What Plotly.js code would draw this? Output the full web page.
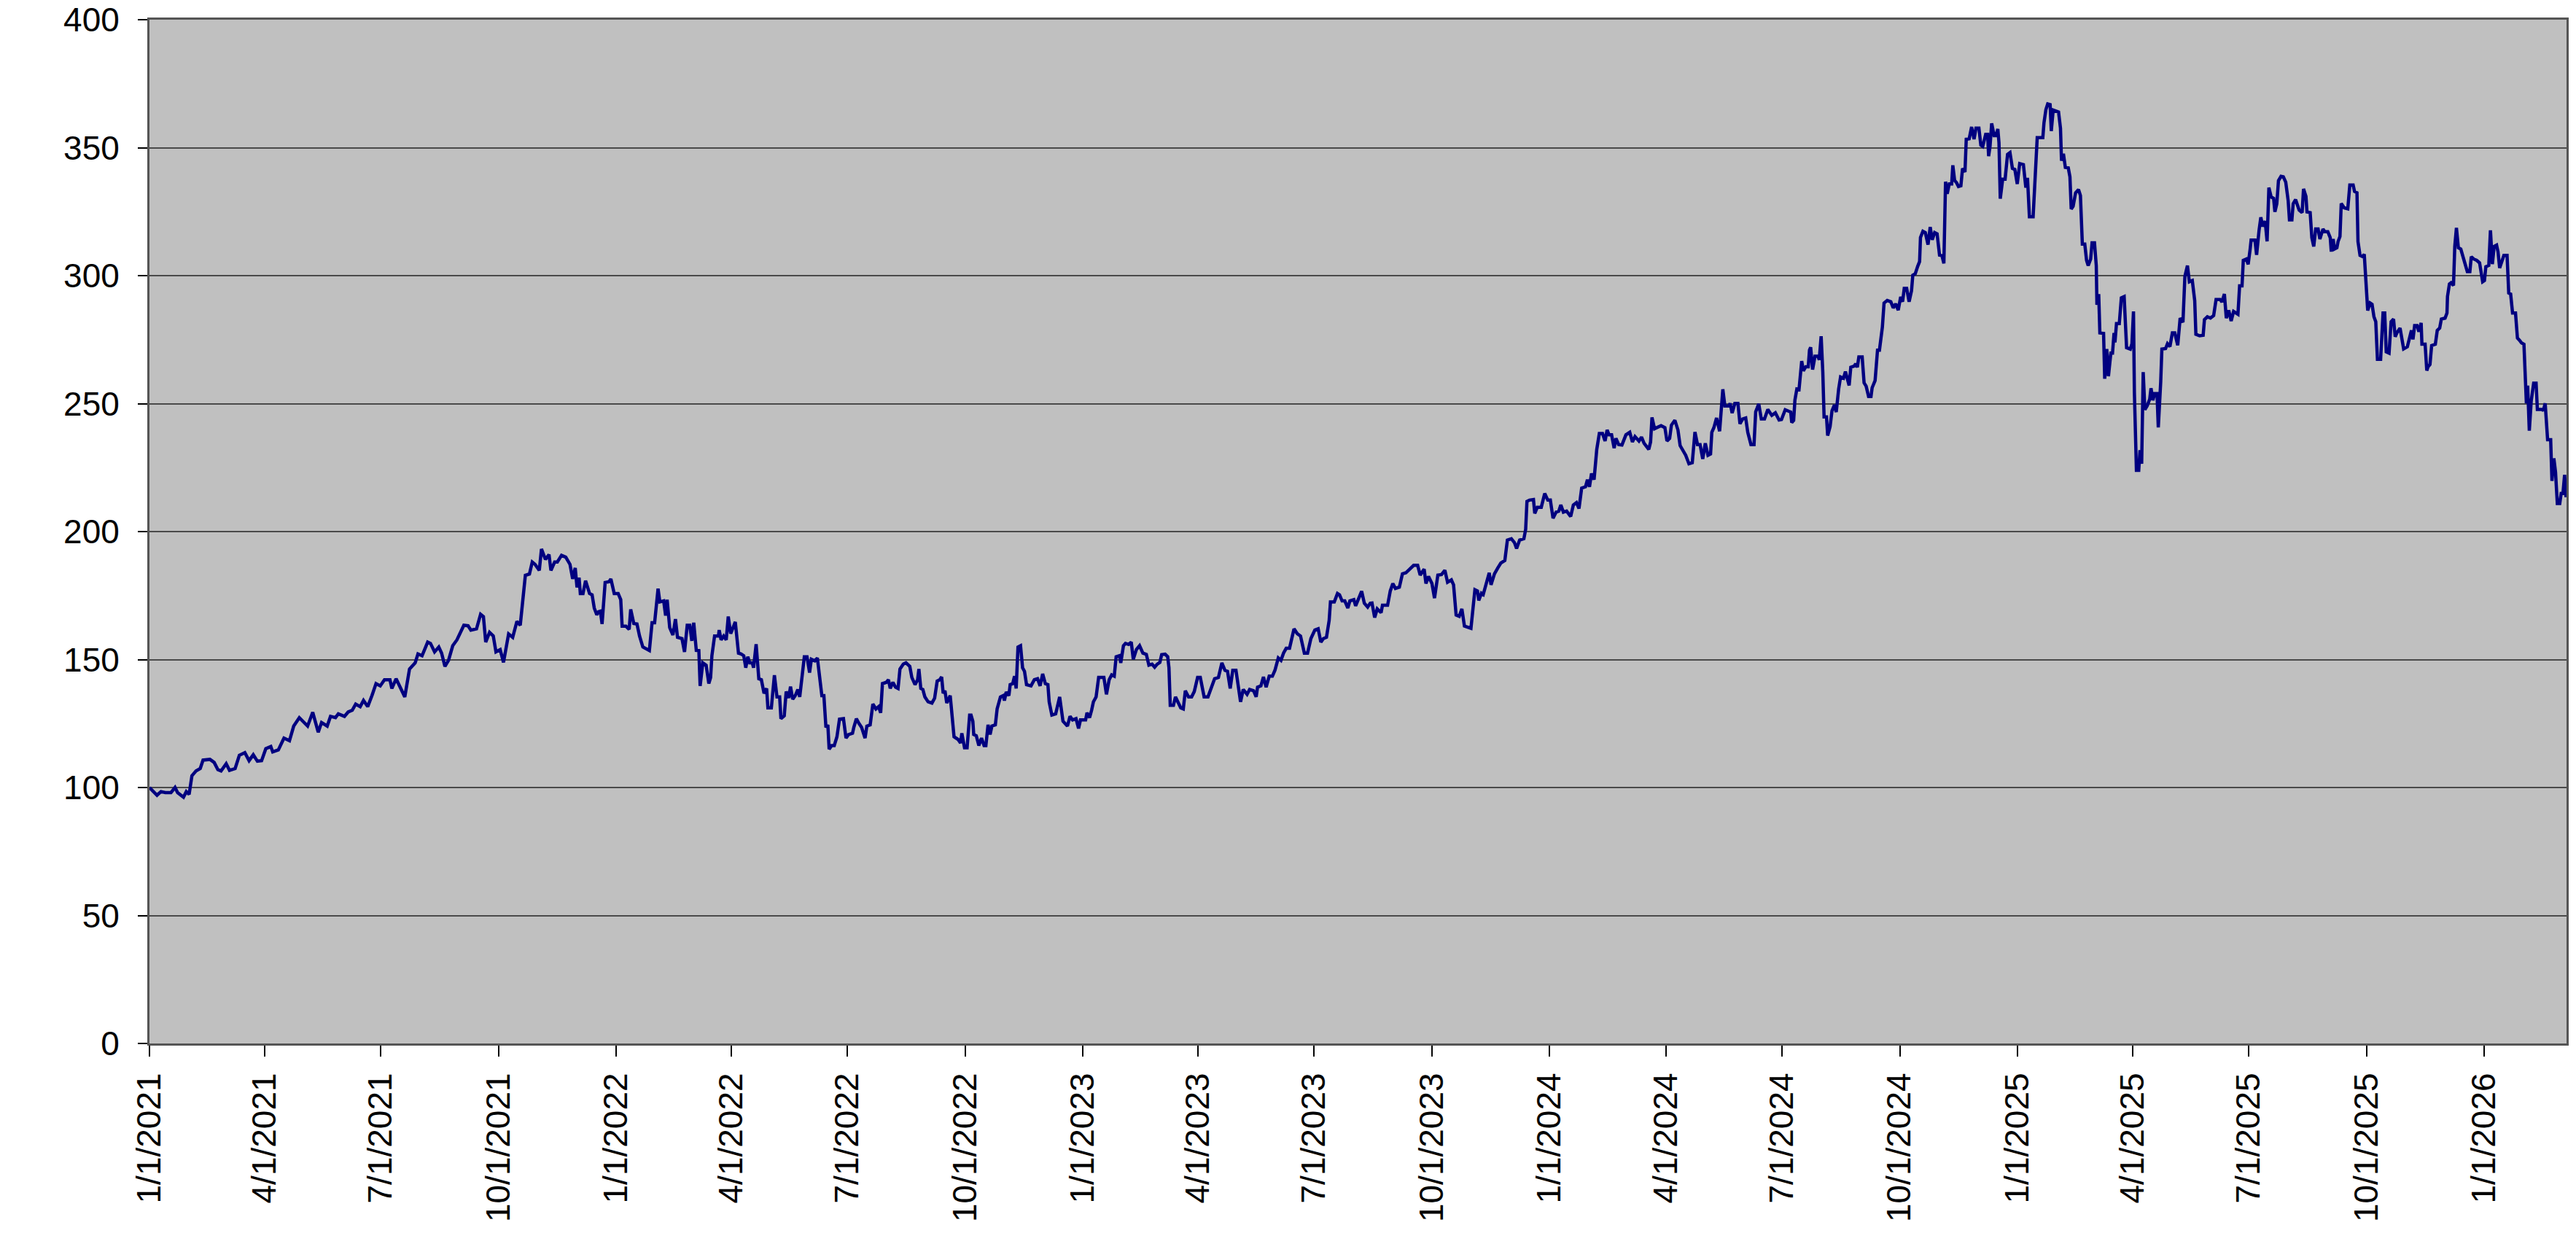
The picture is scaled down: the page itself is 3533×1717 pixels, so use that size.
<!DOCTYPE html>
<html>
<head>
<meta charset="utf-8">
<script src="https://cdn.plot.ly/plotly-3.0.1.min.js"></script>
<style>
  html, body { margin: 0; padding: 0; background: #fff; }
  #chart { width: 3533px; height: 1717px; }
</style>
</head>
<body>
<div id="chart"></div>
<script>
// Trading days, counted in days since 1/1/2021, and the closing value on each
var tradeDays = [
    0, 5.9, 9, 12.4, 16.8, 20, 22, 26.6, 28.8, 31, 33.2, 36.4, 39.7, 41.9, 47.3, 50.6, 53.5, 56, 60, 62.6,
    67, 70.3, 74.6, 77.9, 81.2, 84.4, 87.7, 91, 94.9, 96.4, 100.8, 105.2, 109.5, 112.8, 117.2, 120.5, 123.7, 127.7, 132, 134.6,
    139, 141.6, 145.5, 147.7, 152.5, 155.4, 158.6, 161.3, 164.8, 167.4, 170.7, 174, 177.2, 180.5, 183.8, 188.1, 189.6, 192.9, 196.2, 199.7,
    203.4, 207.8, 210, 213.2, 217.6, 219.8, 223, 226.3, 228.5, 231.1, 233.9, 237.2, 240.5, 245.9, 249.2, 251.4, 255.8, 259, 261.2, 263,
    266, 268.9, 271, 274.3, 276.9, 280.9, 284.1, 287.4, 290, 294, 297.2, 299.4, 301.6, 304.9, 306.6, 309.7, 312.5, 314, 316.9, 319,
    322.3, 325.6,
    328.9, 331, 333, 334.4, 336, 337, 339.1, 341.1, 344.2, 346.2, 347.9, 349.9, 351.3, 352.7, 354, 356.4, 359.5, 360.9, 363.5, 366.6,
    368.6, 369.7, 372.7, 375.2, 376.4, 378.8, 381.3, 383.3, 385.9, 389, 391, 393.1, 395.1, 397.8, 399.2, 402.2, 403.7, 404.9, 406.9, 409.4,
    411.4, 413, 416.5, 418.5, 420.6, 422.6, 424.2, 425.7, 427.7, 429.7, 430.7, 432.8, 435.4, 437.5, 438.9, 439.9, 442, 445, 445.6, 447.1,
    449.1, 451.1, 452.7, 454.6, 456.2, 458.2, 460.7, 462.7, 464.8, 466.4, 468, 469.5, 471.5, 472.5, 474.5, 476.6, 478.6, 480.7, 482.7, 483.7,
    486.4, 488.8, 490.8, 492.9, 493.9, 496.5, 498, 500, 501.4, 503.1, 505.1, 507.1, 508.6, 510.2, 512.2, 514.3, 516.3, 517.7, 520.4, 522.4,
    524.4, 525.9, 527.5, 529.1, 530.6, 531.6, 533.6, 535.6, 537.7, 539.7, 542.8, 544.8, 546.8, 549.9, 550.9, 552.9, 555, 557, 559.7, 561.1,
    563.7, 565.8, 568.2, 570.3, 571.9, 573.3, 576.4, 578, 579.4, 581.5, 583.5, 585.5, 587, 589.6, 591.7, 594.7, 596.3, 598.8, 600.8, 601.8,
    603.3, 604.9, 606.5, 609, 612, 614.1, 616.1, 618.1, 619.6, 620.8, 622.2, 623.6, 626.3, 629.3, 632.4, 634.4, 635.4, 637.5, 639.5, 641.5,
    642.6, 644, 644.7, 646.7, 648.7, 650.8, 652.8, 654.2, 655.9, 657.5, 658.9, 661.6, 663, 665.6, 667.7, 668.7, 670.1, 672.2, 673.2, 675.2,
    676.6, 677.9, 679.3, 681.3, 682.9, 684.4, 686, 689.5, 692.1, 694.6, 696.6, 698.6, 700.7, 702.7, 703.7, 705.8, 708.8, 711.9, 714.5, 718,
    720, 722, 724.7, 726.7, 728.2, 732.2, 733.3, 735.3, 736.9, 738.3, 740.4, 742.4, 746.5, 748.5, 750.6, 752.6, 754.6, 756.1, 758.7, 759.7,
    761.8, 763.4, 765.8, 767.9, 769.5, 771.9, 774.4, 777, 779.7, 781.7, 784.2, 786.2, 788.2, 790.3, 791.7, 794.4, 796.4, 797.4, 798.4, 800.9,
    802.5, 804.5, 806.6, 808.6, 810.2, 812.7, 815.1, 817.2, 819.8, 821.9, 824.9, 827.9, 830.6, 833.1, 836.1, 838.8, 841.2, 843.2, 845.3, 847.3,
    849.8, 851.8, 853.4, 855.5, 858.5, 860.5, 863.6, 865.6, 866.7, 869.3, 871.3, 873.4, 875.8, 878.3, 880.3, 882.9, 885, 887, 889.1, 891.7,
    893.7, 895.2, 897.8, 900.3, 903.3, 905.8, 908.4, 911.5, 914.1, 916.2, 918.2, 920.6, 922.7, 923.7, 926.7, 929.2, 930.8, 932.8, 934.9, 937.3,
    938.9, 942, 943.4, 946.1, 948.1, 950.2, 952.8, 954.8,
    956.2, 958.3, 960.3, 963.3, 964.4, 968.4, 970.5, 972.5, 974.5, 977.6, 980, 982.7, 985.7, 988.8, 991.9, 993.9, 997, 998.4, 1000.4, 1003.1,
    1005.1, 1007.7, 1010.6, 1013.2, 1015.3, 1018.3, 1020, 1022, 1024.4, 1026.5, 1028.5, 1031.6, 1033.6, 1036.7, 1038.7, 1039.7, 1041.8, 1043.2, 1044.8, 1047.9,
    1049.3, 1052, 1054.6, 1057, 1060.1, 1062.1, 1065.2, 1067.6, 1069.3, 1071.7, 1075, 1076.4, 1077.4, 1079.4, 1082.5, 1083.5, 1085.5, 1088.6, 1091.3, 1093.7,
    1095.7, 1097.8, 1100.2, 1102.3, 1103.9, 1105.9, 1108.4, 1111.6, 1113.7, 1116.1, 1118.1, 1120.2, 1123.2, 1124.7, 1126.3, 1127.9, 1129.9, 1132, 1134, 1136.5,
    1138.5, 1140.1, 1141.6, 1143.6, 1145.6, 1147, 1149.1, 1151.7, 1154.8, 1157.8, 1159.9, 1161.9, 1165, 1167, 1169, 1172.7, 1174.1, 1175.2, 1177.2, 1180.3,
    1182.3, 1185.3, 1186.9, 1189, 1190.4, 1193.1, 1195.5, 1197.2, 1199.6, 1201.6, 1204.1, 1206.7, 1208.8, 1210.8, 1212.8, 1214.9, 1216.9, 1219, 1221, 1222,
    1223.6, 1225.7, 1228.1, 1230.6, 1232.2, 1235.3, 1236.3, 1237.9, 1240, 1242.4, 1244, 1246.1, 1248.5, 1250.1, 1252.6, 1255, 1256.3, 1258.7, 1260.7, 1263.2,
    1265.8, 1268.9,
    1271.7, 1274.6, 1276.5, 1279.4, 1282.2, 1283.7, 1284.5, 1286, 1287, 1288.5, 1290.2, 1291.3, 1292.3, 1293.6, 1295.5, 1297.4, 1298.4, 1299.3, 1300.8, 1302.7,
    1305, 1306, 1307.5, 1308.8, 1309.8, 1311.7, 1312.6, 1314.5, 1316, 1317.9, 1319.3, 1321.2, 1322.7, 1325, 1326.5, 1329.4, 1330.7, 1333.5, 1334.5, 1335.8,
    1337, 1339.6, 1341.1, 1342.7, 1344.6, 1346.5, 1347.4, 1349.7, 1351.6, 1353.1, 1355.4, 1356.7, 1359.2, 1362, 1363.9, 1365.8, 1367.8, 1369.7, 1371.2, 1372.5,
    1374.4, 1376.3, 1378.2, 1379.2, 1381.1, 1383, 1384.5, 1385.2, 1387.1, 1389, 1391.1, 1392.8, 1394.4, 1396.3, 1398.2, 1400.1, 1402, 1403.5, 1404.8, 1406.1,
    1407.7, 1409.6, 1410.5, 1411.9, 1413.4, 1414.9, 1416.8, 1418.1, 1420, 1421, 1423.3, 1425.2, 1427.1, 1428.6, 1430.9, 1432.4, 1433.9, 1436.2, 1437.7, 1438.5,
    1439.6, 1440.9, 1442.8, 1444.2, 1445.7, 1446.6, 1447.6, 1449.5, 1451.4, 1453.3, 1455.2, 1457.1, 1459, 1460.9, 1462.8, 1465.7, 1467.6, 1468.9, 1470.4, 1473.3,
    1476.5, 1480.9, 1481.8, 1483.3, 1484.7, 1486.6, 1487.5, 1489, 1491.3, 1493.2, 1494.7, 1495.5, 1497, 1498.5, 1500.8, 1502.1, 1503.1, 1504.6, 1506.5, 1508.8,
    1510.3, 1511.8, 1513.7, 1515.1, 1516.4, 1518.3, 1519.4, 1521.3, 1522.7, 1523.2, 1524.6, 1525.5, 1528.4, 1529.3, 1530.9, 1532.2, 1534.1, 1535.4, 1536.6, 1537.3,
    1538.5, 1540.7, 1542.3, 1544.5, 1546.4, 1549.3, 1550.6, 1551.8, 1552.5, 1554.1, 1555.9, 1556.9, 1558.2, 1559.4, 1560.7, 1562.6, 1564.5, 1565.5, 1567, 1568.3,
    1570.2, 1571.2, 1573.1, 1574, 1576.9, 1578.4, 1580.3, 1582.2, 1584.1, 1586.4, 1588.3, 1590.5, 1592, 1594, 1595.5, 1597.8, 1599.7, 1600.6, 1603.5, 1606.3,
    1607.3, 1609.6, 1612, 1614.5, 1616.4, 1619.6, 1621, 1622.9, 1624.4, 1626.3, 1628.2, 1630.1, 1633.5, 1634.8, 1636.7, 1637.7, 1640, 1641.5, 1643, 1643.8,
    1646.8, 1648.1, 1650, 1651.4, 1652.9, 1654.8, 1656.3, 1657.7, 1659.5, 1661.4, 1662.4, 1663.9, 1665.2, 1667.2, 1669, 1670.9, 1672.8, 1673.8, 1675.7, 1676.7,
    1678.6,
    1681.4, 1683.7, 1684.8, 1686.7, 1687.5, 1690, 1691.3, 1692.8, 1694.3, 1696.2, 1697.6, 1700, 1701.4, 1703.8, 1705.7, 1706.5, 1708, 1709, 1710.9, 1711.8,
    1713.3, 1714.3, 1716.6, 1719.4, 1721, 1723.6, 1724.7, 1726.6, 1727.4, 1729, 1731.2, 1732.3, 1733.7, 1735, 1736.9, 1738.4, 1739.9, 1741.3, 1742.6, 1745.1,
    1747, 1748.3, 1749.5, 1751.7, 1753.3, 1755.2, 1756.5, 1757.8, 1760.3, 1763.1, 1766, 1767.9, 1769.2, 1770.4, 1771.7, 1773.6, 1775, 1776.8, 1777.4, 1779.9,
    1781.2, 1782.2, 1783.7, 1785, 1787.9, 1789.4, 1791.3, 1792.6, 1795.5, 1797, 1797.4, 1798.9, 1800.2, 1802.1, 1803.1, 1804.4, 1805.9, 1807.8, 1809.1, 1811.1,
    1812.9, 1814.9, 1816, 1817.9, 1820.2, 1822.5, 1824.9, 1826.3, 1827.4, 1829.7, 1831, 1832.5, 1833.9, 1835.8, 1836.9, 1838.2, 1840.1, 1841.5, 1844, 1845.3,
    1846.8, 1848.3, 1850.6, 1852.1, 1854, 1855.3, 1857.2, 1858.2, 1859.1, 1860.1, 1861.4, 1862.9, 1864.8, 1866.7, 1867.7, 1871.5, 1872.4, 1873.8, 1875.7, 1878.1,
    1879.1, 1880.6, 1881.9, 1883.3, 1885.2, 1886.3, 1887.7, 1889, 1890.1
];

var closeValues = [
    100, 97, 98.4, 98, 98, 100, 98, 96.2, 98.4, 97.3, 104.6, 106.5, 107.4, 110.7, 111, 109.8, 107, 106.5, 109.3, 106.7,
    107.4, 112.6, 113.6, 110.5, 112.8, 110.3, 110.5, 115.2, 116, 113.9, 114.7, 119.3, 118.3, 124, 127.3, 125.4, 124, 129.4, 121.6, 125.4,
    124, 127.8, 127.3, 128.8, 127.8, 129.5, 130.2, 132.6, 131.6, 134, 131.6, 135.9, 140.6, 139.7, 142.1, 142.1, 138.7, 142.5, 138.7, 135.4,
    146.3, 148.7, 152.2, 151.5, 156.8, 156.3, 153, 154.9, 152.5, 147.3, 149.7, 155.4, 157.7, 163.4, 163.2, 161.5, 162, 167.7, 166.8, 156.8,
    160.6, 159.2, 153, 153.9, 148.9, 160, 158.7, 164.9, 163.4, 182.9, 183.4, 188.1, 187.2, 184.8, 193.2, 189.1, 191, 184.8, 188.1, 188.1,
    190.7, 190,
    187.2, 181.5, 185.8, 178.2, 182, 175.8, 175.8, 180.8, 175.8, 175.3, 170.1, 167.5, 168.7, 168.9, 163.9, 180.1, 180.4, 181.5, 175.8, 175.8,
    173.4, 163, 163, 161.8, 169.6, 164.1, 163.9, 159.2, 154.9, 153.9, 153.5, 164.4, 164.4, 177.7, 172.5, 172.9, 167.2, 173.4, 162.5, 159.6,
    165.8, 158.7, 158.2, 153, 163.4, 163.4, 157.3, 164.4, 153.6, 153.5, 139.7, 148.7, 147.8, 140.6, 143, 151.5, 159.2, 159.2, 161.5, 157.7,
    159.2, 157.7, 166.8, 160.1, 162.5, 164.7, 152.5, 152.2, 151.5, 146.8, 151.1, 148.7, 148.7, 146.8, 156, 142.5, 142.1, 136.8, 138.7, 131.1,
    131.1, 143.9, 135.4, 135.4, 126.9, 128, 137.5, 135, 139.4, 134.5, 135.9, 138.3, 135.4, 143.9, 151.1, 151.1, 144.9, 150.1, 149.5, 150.6,
    143.5, 135.9, 135.9, 123.5, 124.5, 115, 116.4, 116.4, 119.8, 126.7, 126.9, 119.3, 120.7, 121.2, 123.5, 126.9, 125, 123.5, 119.3, 124,
    124.5, 132.6, 130.7, 131.6, 129.2, 140.6, 141.1, 142.1, 138.7, 141.1, 139.2, 138.7, 146.3, 148.2, 148.7, 147.3, 143, 140.2, 142.1, 146.3,
    138.7, 138.3, 135.4, 133.5, 133, 134.9, 141.6, 142.1, 143.2, 136.8, 137.8, 133, 135.9, 119.8, 118.8, 117.4, 121.2, 115.5, 115.5, 128.3,
    128.3, 125.9, 120.7, 120.2, 116.4, 119.3, 116.4, 116.4, 124.5, 120.7, 124, 124.5, 130.7, 135.4, 135.9, 134, 137.3, 135.9, 140.2, 140.6,
    143.5, 138.7, 154.9, 155.4, 146.8, 145.4, 140.2, 139.7, 142.1, 142.5, 139.7, 144.4, 140.6, 140.2, 133.5, 128.3, 128.8, 135.4, 125.9, 124,
    127.8, 126.4, 126.9, 123.1, 126.4, 126.4, 129.2, 127.3, 130.2, 133.5, 135.4, 143, 143, 136.4, 142.1, 144, 143.5, 151.1, 151.5, 148.7,
    155.4, 156.3, 155.9, 156.8, 150.1, 153.9, 155.4, 152.5, 152, 147.8, 148.2, 147, 148.2, 148.9, 151.9, 152.1, 151.1, 146.8, 132.1, 132.1,
    135.4, 133.5, 131.1, 130.7, 137.8, 135.4, 135.4, 137.5, 143, 143, 135.4, 135.4, 139.2, 142.5, 143, 148.7, 145.8, 145.4, 138.7, 145.8,
    145.8, 138.3, 133.5, 138.3, 136.4, 138.3, 137.8, 135.4, 139.2, 139.7, 143.2, 139.2, 143.5, 143.5, 145.8, 150.6, 149.7, 152.5, 154.4, 154.4,
    159.6, 162, 160.1, 159.2, 152.5, 152.5, 158.2, 161.5, 162, 156.8, 158.2, 158.7, 165.3, 172.5, 172.5, 175.8, 175.3, 172.9, 172.9, 170.1,
    172.9, 173.4, 171, 174.4, 176.7, 172, 170.5, 172,
    172.1, 166.4, 169.8, 168.3, 171.2, 171.2, 176.8, 179.7, 177.8, 178.3, 183.5, 183.9, 185.3, 186.8, 186.8, 183, 185.3, 179.7, 182.5, 179.7,
    174, 183, 183.2, 184.9, 180.2, 181.1, 179.2, 167.4, 166.9, 169.8, 163.1, 162.7, 162.2, 177.3, 176.8, 173.1, 175.9, 175.4, 178.3, 183.9,
    179.2, 183.5, 185.8, 187.7, 188.7, 196.7, 197.2, 195.7, 193.4, 196.7, 197.2, 200.9, 211.8, 212.3, 212.5, 207.1, 209.5, 209.5, 214.9, 212.3,
    212.3, 205.2, 207.6, 208, 210.4, 207.6, 208, 205.9, 210.4, 211.3, 209, 217, 217.5, 220.3, 217.5, 222.7, 220.3, 232.1, 238.3, 238.3,
    235.4, 239.7, 237.8, 237.8, 232.6, 236.4, 234, 233.8, 237.8, 238.8, 235, 237.1, 235.4, 236.9, 234.5, 232.1, 235, 244.6, 240.2, 241.1,
    241.4, 240.6, 235.4, 236.4, 241.6, 243.5, 239.7, 233.6, 231.2, 229.8, 226.5, 226.9, 238.9, 234, 234, 228.4, 234.5, 229.8, 230.3, 238.8,
    240.6, 244.4, 239.2, 255.6, 249.1, 249.1, 250.1, 246.3, 250.1, 250.1, 242.1, 244, 244.4, 238.8, 234, 234, 246.8, 249.9, 244, 244,
    247.7, 245.4,
    246.4, 243.6, 243.8, 247.6, 247, 246.7, 242.6, 243.4, 251.4, 255.7, 255.5, 260.4, 266.6, 262.8, 264.4, 264.4, 270.9, 272, 263.3, 268.5,
    268.5, 267.1, 276.3, 262.3, 244.8, 244.8, 237.5, 241, 247.2, 249.5, 246.7, 255.7, 260.4, 259.9, 262.5, 257.1, 264.2, 264.7, 265.6, 264.2,
    268.2, 268.2, 258.1, 256.8, 252.8, 252.8, 256.2, 259, 270.9, 270.9, 279.9, 289.3, 290.3, 289.8, 287.4, 289, 286.5, 291.7, 289.8, 295,
    295, 289.8, 294.1, 300.2, 300.7, 303.6, 305.5, 314.9, 317.3, 316.8, 312.1, 319, 314, 316.8, 316.3, 308, 307.8, 304.8, 336.7, 332,
    335.8, 335.8, 343.1, 337.2, 336.3, 334.8, 335.1, 341.9, 340.5, 353.3, 353.5, 358.1, 353.3, 357.6, 357.6, 351, 350.5, 355.2, 355.2, 346.7,
    350.5, 359.5, 354.7, 354.7, 357.3, 351.9, 330.1, 337.7, 337.7, 347.4, 348.1, 341.9, 341.5, 335.8, 343.8, 343.4, 334.4, 338.2, 323, 323,
    353.9, 353.9, 359.7, 364.9, 367.1, 366.8, 356.5, 364.7, 364.1, 363.9, 357.6, 344.9, 347.6, 342.3, 342.1, 338.6, 326, 327.1, 332.3, 333.6,
    331.3, 312.3, 312.3, 306, 303.9, 306.5, 312.8, 312.8, 303.9, 288.6, 292.8, 277.6, 277.4, 259.7, 271.3, 260.7, 269.7, 269.7, 277.6, 273.9,
    281.3, 281.3, 291.3, 291.8, 271.8, 271.3, 273.4, 286, 254.4, 223.9, 223.9, 231.8, 226.5, 262.3, 247.6, 249.2, 251.8, 256, 251.3, 253.9,
    253.9, 240.7, 258.6, 271.3, 271.5, 273.4, 272.3, 277.6, 277.6, 272.8, 283.4, 281.8, 299.7, 303.9, 297.6, 298.1, 290.2, 277.1, 276.5, 276.7,
    282.8, 283.9, 283.4, 284.4, 290.7, 290.7, 289.7, 292.8, 283.4, 286.5, 282.3, 286, 284.9, 296, 296, 306, 306.5, 304.4, 310.2, 313.9,
    313.9, 308.1, 317.6, 322.8, 319.2, 321.3, 313.4, 334.4, 330.7, 330.2, 324.9, 328.1, 337.1, 338.8, 338.6, 336.5, 329.2, 321.8, 321.8, 328.1,
    329.7,
    325.6, 324.6, 333.9, 330.9, 324.9, 324.6, 314.8, 311.4, 318.2, 318.2, 314.3, 318.2, 317.2, 317.2, 314.8, 309.4, 314.3, 310.4, 310.9, 313.3,
    315.3, 328.2, 326.5, 326.1, 335.4, 335.4, 332.9, 332.4, 313.3, 307.9, 307.4, 308.4, 296.7, 286.4, 289.3, 288.8, 283.9, 282, 267.3, 267.3,
    285.4, 285.4, 270.2, 269.7, 282, 283, 276.1, 277.6, 279.5, 271.4, 272.2, 276.1, 278.6, 275.1, 280.5, 280.5, 278.1, 281.5, 273.2, 273.2,
    262.9, 264.4, 265.3, 272.7, 273.2, 278.6, 279.5, 283, 283.4, 285.4, 291.8, 296.7, 297.2, 296.2, 311.4, 318.7, 310.9, 310.4, 307.9, 304.5,
    301.6, 301.6, 307.4, 306.5, 306, 305, 297.6, 298.1, 303.5, 304, 317.7, 304.5, 311.4, 311.9, 309.4, 303, 306.5, 307.9, 307.9, 293.2,
    292.8, 285.4, 285.4, 275.6, 274.6, 273.7, 273.2, 257.5, 250.1, 257, 239.4, 251.1, 258, 258, 247.7, 247.7, 247.2, 250.1, 235.9, 235.9,
    219.8, 228.6, 223.2, 211, 211, 214.9, 214.9, 222.2, 213.4
];

// Quarterly tick marks on the date axis
var tickDates = [
    '2021-01-01', '2021-04-01', '2021-07-01', '2021-10-01',
    '2022-01-01', '2022-04-01', '2022-07-01', '2022-10-01',
    '2023-01-01', '2023-04-01', '2023-07-01', '2023-10-01',
    '2024-01-01', '2024-04-01', '2024-07-01', '2024-10-01',
    '2025-01-01', '2025-04-01', '2025-07-01', '2025-10-01',
    '2026-01-01'
];
var tickLabels = [
    '1/1/2021', '4/1/2021', '7/1/2021', '10/1/2021',
    '1/1/2022', '4/1/2022', '7/1/2022', '10/1/2022',
    '1/1/2023', '4/1/2023', '7/1/2023', '10/1/2023',
    '1/1/2024', '4/1/2024', '7/1/2024', '10/1/2024',
    '1/1/2025', '4/1/2025', '7/1/2025', '10/1/2025',
    '1/1/2026'
];
var lastDay = 1890.5;

var DAY_MS = 86400000;
var start = Date.UTC(2021, 0, 1);
function dayToDate(d) {
    return new Date(start + d * DAY_MS).toISOString();
}

var font = { family: '"Liberation Sans", Arial, sans-serif', size: 46, color: '#000' };

var trace = {
    x: tradeDays.map(dayToDate),
    y: closeValues,
    type: 'scatter',
    mode: 'lines',
    line: { color: '#000080', width: 4.5 },
    hoverinfo: 'x+y'
};

var layout = {
    width: 3533,
    height: 1717,
    margin: { l: 205, r: 13, t: 27, b: 286, pad: 0 },
    paper_bgcolor: '#ffffff',
    plot_bgcolor: '#c0c0c0',
    showlegend: false,
    font: font,
    xaxis: {
        type: 'date',
        range: [dayToDate(0), dayToDate(lastDay)],
        tickmode: 'array',
        tickvals: tickDates,
        ticktext: tickLabels,
        tickangle: -90,
        tickfont: font,
        ticks: 'outside',
        ticklen: 15,
        tickwidth: 2,
        tickcolor: '#000',
        ticklabelstandoff: 4,
        showgrid: false,
        zeroline: false,
        showline: true,
        linecolor: '#555555',
        linewidth: 3,
        mirror: true,
        automargin: false
    },
    yaxis: {
        range: [0, 400],
        tick0: 0,
        dtick: 50,
        tickfont: font,
        ticks: 'outside',
        ticklen: 13,
        tickwidth: 2,
        tickcolor: '#000',
        ticklabelstandoff: 16,
        showgrid: true,
        gridcolor: '#4a4a4a',
        gridwidth: 2,
        zeroline: false,
        showline: true,
        linecolor: '#555555',
        linewidth: 3,
        mirror: true,
        automargin: false
    }
};

Plotly.newPlot('chart', [trace], layout, { displayModeBar: false, staticPlot: true });
</script>
</body>
</html>
